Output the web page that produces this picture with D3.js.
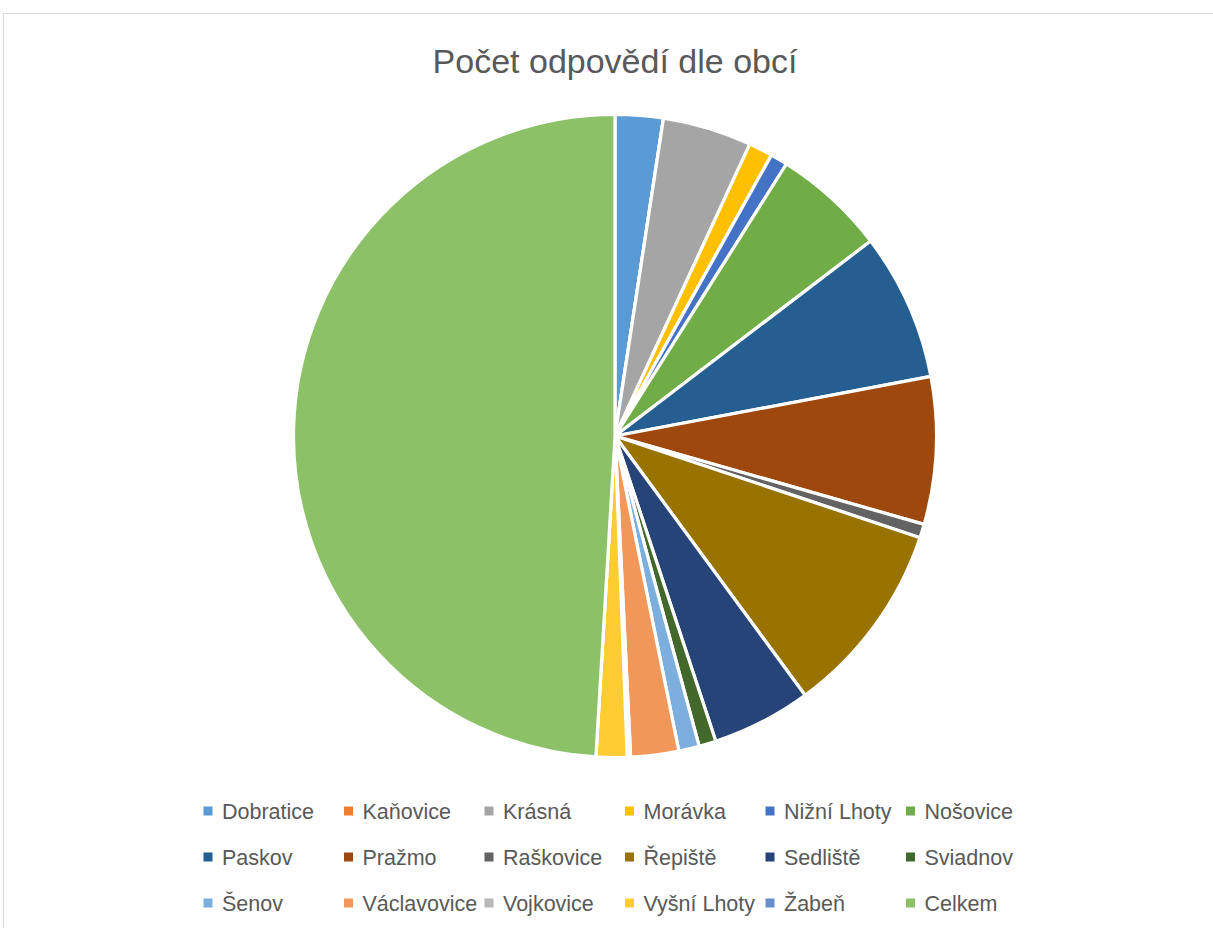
<!DOCTYPE html>
<html>
<head>
<meta charset="utf-8">
<script src="https://cdn.jsdelivr.net/npm/d3@7"></script>
<style>
  html, body { margin: 0; padding: 0; background: #ffffff; }
  svg { display: block; }
</style>
</head>
<body>
<svg id="chart" width="1213" height="928"></svg>
<script>
const categories = ["Dobratice", "Kaňovice", "Krásná", "Morávka", "Nižní Lhoty", "Nošovice",
  "Paskov", "Pražmo", "Raškovice", "Řepiště", "Sedliště", "Sviadnov",
  "Šenov", "Václavovice", "Vojkovice", "Vyšní Lhoty", "Žabeň", "Celkem"];
const values = [14, 0, 26, 7, 5, 33, 43, 43, 4, 57, 29, 5, 6, 14, 1, 9, 0, 285];
const colors = ["#5B9BD5", "#ED7D31", "#A5A5A5", "#FFC000", "#4472C4", "#70AD47",
  "#255E91", "#9E480E", "#636363", "#997300", "#264478", "#43682B",
  "#7CAFDD", "#F1975A", "#B7B7B7", "#FFCD33", "#698ED0", "#8CC168"];
const title = "Počet odpovědí dle obcí";

const svg = d3.select("#chart");
const W = 1213, H = 928;

// chart frame
svg.append("rect")
  .attr("x", 3.5).attr("y", 13.5)
  .attr("width", W + 10).attr("height", H + 10)
  .attr("fill", "#ffffff").attr("stroke", "#d9d9d9").attr("stroke-width", 1);

// title
svg.append("text")
  .attr("x", 615).attr("y", 73)
  .attr("text-anchor", "middle")
  .attr("font-family", "Liberation Sans, Arial, sans-serif")
  .attr("font-size", 34)
  .attr("fill", "#595959")
  .text(title);

// pie
const cx = 615, cy = 436, R = 321.5;
const data = categories.map((c, i) => ({ name: c, value: values[i] }));
const pie = d3.pie().sort(null).value(d => d.value);
const arc = d3.arc().innerRadius(0).outerRadius(R);
const color = d3.scaleOrdinal().domain(categories).range(colors);

svg.append("g")
  .attr("transform", `translate(${cx},${cy})`)
  .selectAll("path")
  .data(pie(data))
  .join("path")
  .attr("d", arc)
  .attr("fill", d => color(d.data.name))
  .attr("stroke", "#ffffff")
  .attr("stroke-width", 3.2)
  .attr("stroke-linejoin", "round");

// legend
const perRow = 6, colW = 140.5, rowH = 46;
const lx0 = 208, ly0 = 811;
const leg = svg.append("g");
categories.forEach((c, i) => {
  const col = i % perRow, row = Math.floor(i / perRow);
  const x = lx0 + col * colW, y = ly0 + row * rowH;
  leg.append("rect")
    .attr("x", x - 4.5).attr("y", y - 4.5)
    .attr("width", 9).attr("height", 9)
    .attr("fill", color(c));
  leg.append("text")
    .attr("x", x + 14).attr("y", y)
    .attr("dy", "0.35em")
    .attr("font-family", "Liberation Sans, Arial, sans-serif")
    .attr("font-size", 21.5)
    .attr("fill", "#595959")
    .text(c);
});
</script>
</body>
</html>
